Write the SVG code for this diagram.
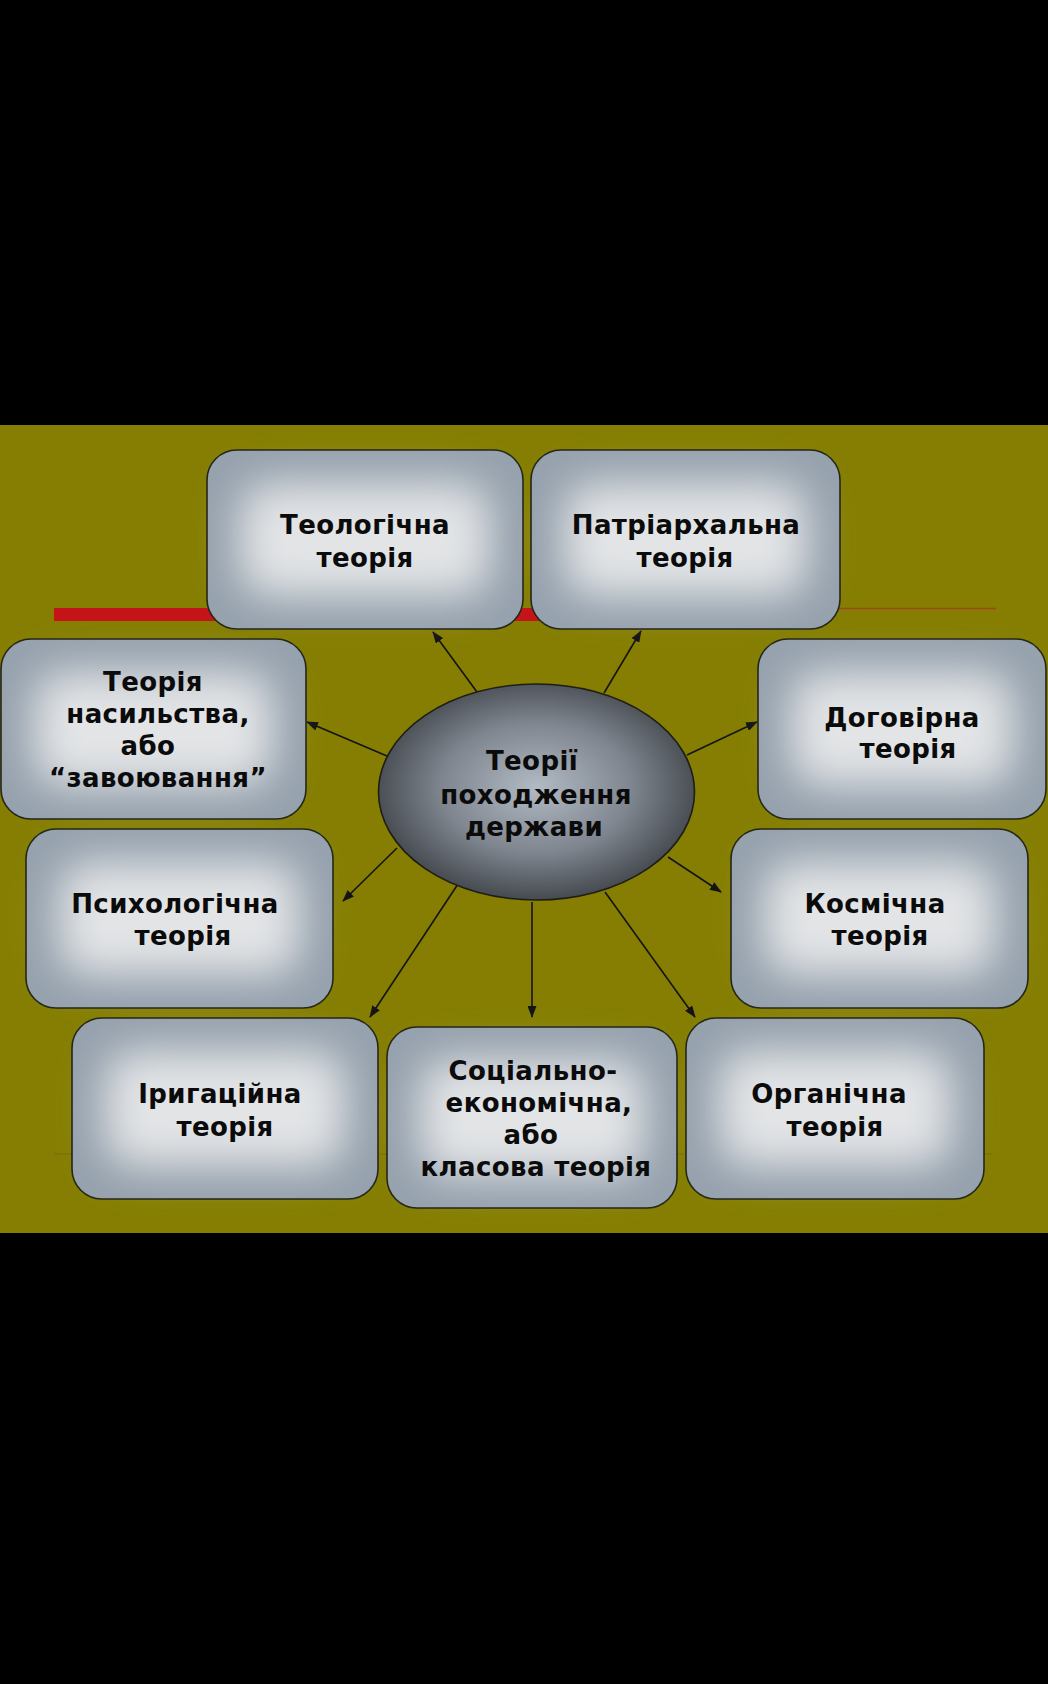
<svg xmlns="http://www.w3.org/2000/svg" width="1048" height="1684" viewBox="0 0 1048 1684">
<style>
.base{fill:#95a1ad;}
.glow{fill:#e2e4e6;filter:url(#soft);}
.edge{fill:none;stroke:#26261a;stroke-width:1.6;}
text{font-family:"DejaVu Sans","Verdana",sans-serif;font-weight:bold;font-size:26px;fill:#0b0b0b;text-anchor:middle;letter-spacing:0.4px;}
.conn{stroke:#141414;stroke-width:1.6;fill:none;marker-end:url(#arr);}
</style>
<defs>
<filter id="soft" x="-50%" y="-50%" width="200%" height="200%">
<feGaussianBlur stdDeviation="21"/>
</filter>
<radialGradient id="eg" cx="0.5" cy="0.48" r="0.55">
<stop offset="0" stop-color="#b2bac3"/>
<stop offset="0.55" stop-color="#7e858e"/>
<stop offset="1" stop-color="#3e4248"/>
</radialGradient>
<marker id="arr" markerUnits="userSpaceOnUse" markerWidth="12" markerHeight="9" refX="11" refY="4.5" orient="auto">
<path d="M0,0 L12,4.5 L0,9 Z" fill="#141414"/>
</marker>
</defs>
<rect x="0" y="0" width="1048" height="1684" fill="#000"/>
<rect x="0" y="425" width="1048" height="808" fill="#857e02"/>
<g id="decor">
<rect x="54" y="608" width="506" height="13" fill="#c4141a"/>
<line x1="560" y1="608.5" x2="996" y2="608.5" stroke="#a0461a" stroke-width="1.6"/>
<line x1="54" y1="1154" x2="993" y2="1154" stroke="#76680e" stroke-width="1.5" opacity="0.6"/>
</g>
<g id="connectors">
<line class="conn" x1="477" y1="692" x2="433" y2="632"/>
<line class="conn" x1="604" y1="693" x2="641" y2="631"/>
<line class="conn" x1="387" y1="756" x2="307" y2="722"/>
<line class="conn" x1="687" y1="755" x2="757" y2="722"/>
<line class="conn" x1="397" y1="848" x2="343" y2="901"/>
<line class="conn" x1="668" y1="857" x2="721" y2="892"/>
<line class="conn" x1="458" y1="884" x2="370" y2="1017"/>
<line class="conn" x1="532" y1="902" x2="532" y2="1017"/>
<line class="conn" x1="605" y1="892" x2="695" y2="1017"/>
</g>
<g id="n-teolog">
<rect class="base" x="207" y="450" width="316" height="179" rx="30"/>
<rect class="glow" x="240" y="483" width="250" height="113" rx="30"/>
<rect class="edge" x="207" y="450" width="316" height="179" rx="30"/>
<text x="365" y="534">Теологічна</text>
<text x="365" y="567">теорія</text>
</g>
<g id="n-patriarch">
<rect class="base" x="531" y="450" width="309" height="179" rx="30"/>
<rect class="glow" x="564" y="483" width="243" height="113" rx="30"/>
<rect class="edge" x="531" y="450" width="309" height="179" rx="30"/>
<text x="686" y="534">Патріархальна</text>
<text x="685" y="567">теорія</text>
</g>
<g id="n-violence">
<rect class="base" x="1" y="639" width="305" height="180" rx="30"/>
<rect class="glow" x="34" y="672" width="239" height="114" rx="30"/>
<rect class="edge" x="1" y="639" width="305" height="180" rx="30"/>
<text x="153" y="691">Теорія</text>
<text x="158" y="723">насильства,</text>
<text x="148" y="755">або</text>
<text x="158" y="787">“завоювання”</text>
</g>
<g id="n-contract">
<rect class="base" x="758" y="639" width="288" height="180" rx="30"/>
<rect class="glow" x="791" y="672" width="222" height="114" rx="30"/>
<rect class="edge" x="758" y="639" width="288" height="180" rx="30"/>
<text x="902" y="727">Договірна</text>
<text x="908" y="758">теорія</text>
</g>
<g id="n-psych">
<rect class="base" x="26" y="829" width="307" height="179" rx="30"/>
<rect class="glow" x="59" y="862" width="241" height="113" rx="30"/>
<rect class="edge" x="26" y="829" width="307" height="179" rx="30"/>
<text x="175" y="913">Психологічна</text>
<text x="183" y="945">теорія</text>
</g>
<g id="n-cosmic">
<rect class="base" x="731" y="829" width="297" height="179" rx="30"/>
<rect class="glow" x="764" y="862" width="231" height="113" rx="30"/>
<rect class="edge" x="731" y="829" width="297" height="179" rx="30"/>
<text x="875" y="913">Космічна</text>
<text x="880" y="945">теорія</text>
</g>
<g id="n-irrig">
<rect class="base" x="72" y="1018" width="306" height="181" rx="30"/>
<rect class="glow" x="105" y="1051" width="240" height="115" rx="30"/>
<rect class="edge" x="72" y="1018" width="306" height="181" rx="30"/>
<text x="220" y="1103">Іригаційна</text>
<text x="225" y="1136">теорія</text>
</g>
<g id="n-social">
<rect class="base" x="387" y="1027" width="290" height="181" rx="30"/>
<rect class="glow" x="420" y="1060" width="224" height="115" rx="30"/>
<rect class="edge" x="387" y="1027" width="290" height="181" rx="30"/>
<text x="533" y="1080">Соціально-</text>
<text x="539" y="1112">економічна,</text>
<text x="531" y="1144">або</text>
<text x="536" y="1176">класова теорія</text>
</g>
<g id="n-organic">
<rect class="base" x="686" y="1018" width="298" height="181" rx="30"/>
<rect class="glow" x="719" y="1051" width="232" height="115" rx="30"/>
<rect class="edge" x="686" y="1018" width="298" height="181" rx="30"/>
<text x="829" y="1103">Органічна</text>
<text x="835" y="1136">теорія</text>
</g>
<g id="n-center">
<ellipse cx="536.5" cy="792" rx="158" ry="108" fill="url(#eg)" stroke="#1e1e16" stroke-width="1.6"/>
<text x="532" y="770">Теорії</text>
<text x="536" y="804">походження</text>
<text x="534" y="836">держави</text>
</g>
</svg>
